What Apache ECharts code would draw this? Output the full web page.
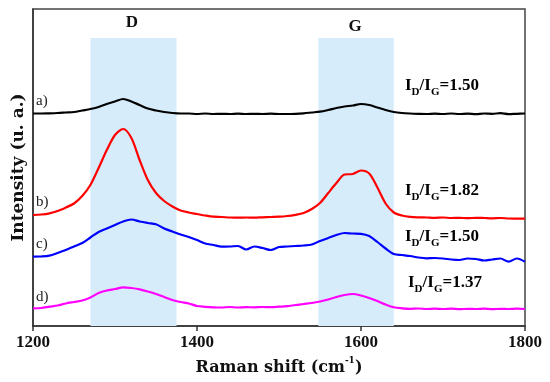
<!DOCTYPE html>
<html>
<head>
<meta charset="utf-8">
<script src="https://cdn.jsdelivr.net/npm/echarts@6/dist/echarts.min.js"></script>
<style>html,body{margin:0;padding:0;background:#fff}#c{width:550px;height:382px}</style>
</head>
<body>
<div id="c"></div>
<script>
// Raman shift (cm-1), sampled every 10 cm-1
const shift = [];
for (let w = 1200; w <= 1800; w += 10) shift.push(w);

// Intensities (arbitrary units, stacked offsets as in the figure)
const seriesA = [212.5,212.5,212.7,213,213.5,214,215.5,217,219,222,224.5,227,224.5,221,217.5,215.5,214,213,212.5,212.5,212,212.5,212,212.2,212,212.4,212,212.2,212,212.3,212,212,212.2,212.7,213.5,214.3,216,218,219.5,220.5,222,221,218.5,216,214,213,212.5,212.2,212,212.4,212,212.5,212,212.4,211.8,212.5,212.2,212.8,211.8,212.2,212.5];
const seriesB = [111,111.5,112.7,115,118.5,122.5,130,141,158,176,191,197,188,166,146,133,125,119.5,115.5,113.5,112,110.5,109.3,109,108.5,108.3,108.5,108.3,108.7,109,109.3,110,111.2,113,117,123,133,143,151.5,152,155.5,152.5,138.5,122.5,113.5,110.5,109.2,108.7,108.5,108.2,108.5,108,108.2,107.8,108.2,108,107.7,108,107.5,107.4,107.3];
const seriesC = [69.3,69.5,70.3,73,76,79.5,83,88.5,94,97.5,101,104.5,106.5,104.5,103,101.7,97.5,94.5,91.5,89,86,82.5,81,79.3,79.5,80,76.5,79.5,78,76,79,79.5,80,80.5,81.5,85,88,91,93,92.5,92.2,90,84,77.5,72,71,70,68.5,67.7,68,67.5,66.5,66,67.5,67,65.5,66.5,67.5,64.3,67.5,64.3];
const seriesD = [17.7,18,19.3,20.5,22.5,24,25.5,28.5,33,35.5,37,38.7,38,36.7,34.5,32,29,26,24,22.5,20,19.2,18.7,18.5,19,18.5,18.8,18.7,19,18.8,19.3,19.8,21,22,23,24.5,26.5,29,31,32,30.5,28,25,21.5,18.7,17.7,17.2,17.5,17,17.3,17,17.4,16.8,17.2,17,17.4,16.8,17.2,17,17.3,17];

const seriesNames = ['a)', 'b)', 'c)', 'd)'];
const seriesColors = ['#000000', '#ff0000', '#0000ff', '#ff00ff'];
const ratioLabels = ['1.50', '1.82', '1.50', '1.37'];

// Highlighted bands [start, end] in cm-1, and band names
const bandRanges = [[1270, 1375], [1548, 1640]];
const bandNames = ['D', 'G'];
const bandTop = 288;

const xTicks = [1200, 1400, 1600, 1800];

const SERIF = '"Liberation Serif", "Times New Roman", serif';
const SERIF2 = '"DejaVu Serif", serif';

const chart = echarts.init(document.getElementById('c'), null, {renderer: 'canvas'});

const data = [seriesA, seriesB, seriesC, seriesD];
const lineSeries = data.map((vals, i) => ({
  name: seriesNames[i],
  type: 'line',
  data: shift.map((w, k) => [w, vals[k]]),
  showSymbol: false,
  smooth: 0.3,
  z: 3,
  lineStyle: {color: seriesColors[i], width: 2.2},
  silent: true
}));

const bandSeries = {
  type: 'line',
  data: [],
  z: 1,
  silent: true,
  markArea: {
    silent: true,
    itemStyle: {color: '#d6ecfa', opacity: 1},
    data: bandRanges.map(r => [{coord: [r[0], 0]}, {coord: [r[1], bandTop]}])
  }
};

const ratioRich = {
  n: {fontFamily: SERIF, fontWeight: 'bold', fontSize: 17, lineHeight: 24, color: '#111'},
  s: {fontFamily: SERIF, fontWeight: 'bold', fontSize: 11, lineHeight: 12, verticalAlign: 'bottom', color: '#111'}
};
const ratioPos = [[405, 86], [405, 190.5], [405, 237], [408, 282.5]];
const namePos = [[36, 101.5], [36, 202.5], [36, 244], [36, 297.5]];
const bandLabelPos = [[132, 23], [355, 27]];

const graphics = [];
ratioLabels.forEach((r, i) => {
  graphics.push({
    type: 'text', x: ratioPos[i][0], y: ratioPos[i][1], silent: true,
    style: {text: '{n|I}{s|D}{n|/I}{s|G}{n|=' + r + '}', rich: ratioRich, align: 'left', verticalAlign: 'middle'}
  });
});
seriesNames.forEach((n, i) => {
  graphics.push({
    type: 'text', x: namePos[i][0], y: namePos[i][1], silent: true,
    style: {text: n, font: '15px ' + SERIF, fill: '#222', align: 'left', verticalAlign: 'middle'}
  });
});
bandNames.forEach((n, i) => {
  graphics.push({
    type: 'text', x: bandLabelPos[i][0], y: bandLabelPos[i][1], silent: true,
    style: {text: n, font: 'bold 17px ' + SERIF, fill: '#111', align: 'center', verticalAlign: 'middle'}
  });
});

chart.setOption({
  animation: false,
  backgroundColor: '#fff',
  grid: {left: 33, right: 25, top: 9, bottom: 56, show: true, borderColor: '#444', borderWidth: 1.5},
  xAxis: {
    type: 'value', min: 1200, max: 1800, interval: 200,
    axisLine: {show: true, lineStyle: {color: '#333', width: 1.5}},
    axisTick: {show: true, inside: false, length: 5, lineStyle: {color: '#333', width: 1.5}},
    axisLabel: {fontFamily: SERIF, fontWeight: 'bold', fontSize: 17, color: '#111', margin: 8,
      formatter: v => String(v)},
    splitLine: {show: false},
    name: '{m|Raman shift (cm}{s|-1}{m|)}',
    nameLocation: 'middle', nameGap: 28,
    nameTextStyle: {
      rich: {
        m: {fontFamily: SERIF2, fontWeight: 'bold', fontSize: 16, lineHeight: 24, color: '#111'},
        s: {fontFamily: SERIF2, fontWeight: 'bold', fontSize: 9, lineHeight: 12, verticalAlign: 'top', color: '#111'}
      }
    }
  },
  yAxis: {
    type: 'value', min: 0, max: 317,
    axisLine: {show: true, lineStyle: {color: '#333', width: 1.5}},
    axisTick: {show: false},
    axisLabel: {show: false},
    splitLine: {show: false},
    name: 'Intensity (u. a.)',
    nameLocation: 'middle', nameGap: 6,
    nameTextStyle: {fontFamily: SERIF2, fontWeight: 'bold', fontSize: 17, color: '#111'}
  },
  graphic: graphics,
  series: [bandSeries].concat(lineSeries)
});
</script>
</body>
</html>
